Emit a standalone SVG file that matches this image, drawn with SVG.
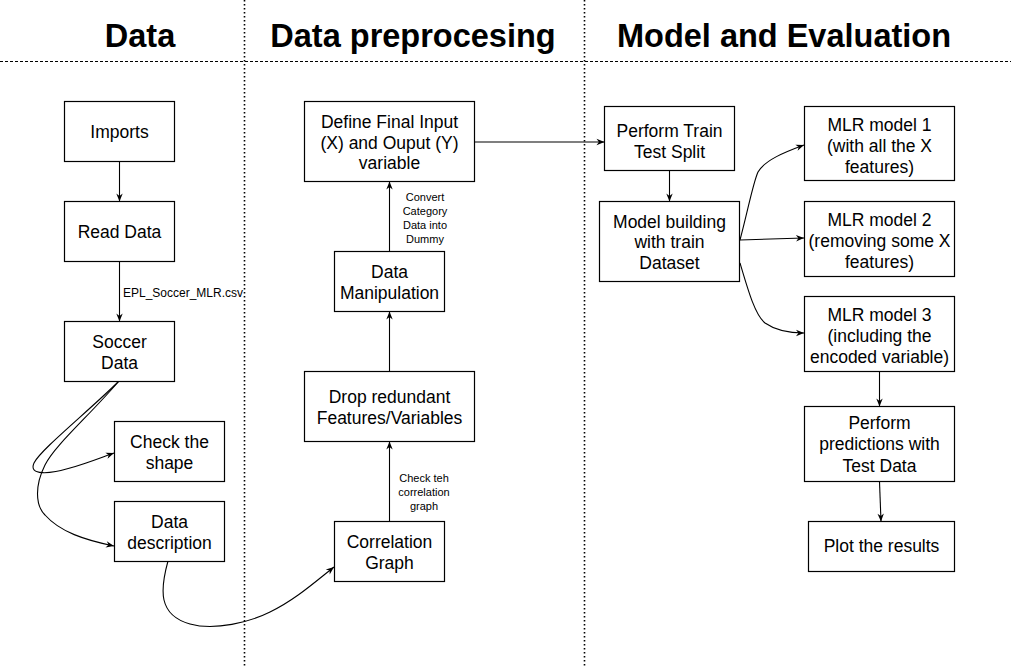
<svg xmlns="http://www.w3.org/2000/svg" width="1011" height="668" viewBox="0 0 1011 668">
<style>
.box{fill:#fff;stroke:#000;stroke-width:1.2}
.t{font-family:"Liberation Sans",Arial,sans-serif;font-size:17.5px;fill:#000;text-anchor:middle}
.s{font-family:"Liberation Sans",Arial,sans-serif;font-size:11px;fill:#000;text-anchor:middle}
.h{font-family:"Liberation Sans",Arial,sans-serif;font-size:32.5px;font-weight:bold;fill:#000;text-anchor:middle}
.e{fill:none;stroke:#000;stroke-width:1.1;marker-end:url(#arr)}
.sep{fill:none;stroke:#000}
</style>
<defs>
<marker id="arr" viewBox="0 0 10 10" refX="10" refY="5" markerWidth="9" markerHeight="8" markerUnits="userSpaceOnUse" orient="auto">
<path d="M0,1 L10,5 L0,9 L3,5 z" fill="#000"/>
</marker>
</defs>
<rect width="1011" height="668" fill="#fff"/>
<g id="separators">
<line class="sep" x1="0" y1="61.5" x2="1011" y2="61.5" stroke-width="1.2" stroke-dasharray="3 2"/>
<line class="sep" x1="244.5" y1="0" x2="244.5" y2="668" stroke-width="1.6" stroke-dasharray="1.6 2.4"/>
<line class="sep" x1="584.5" y1="0" x2="584.5" y2="668" stroke-width="1.6" stroke-dasharray="1.6 2.4"/>
</g>
<g id="titles">
<text class="h" x="140" y="47">Data</text>
<text class="h" x="413" y="47">Data preprocesing</text>
<text class="h" x="784" y="47">Model and Evaluation</text>
</g>
<g id="connectors">
<path class="e" d="M119.5,161.5 L119.5,201.5"/>
<path class="e" d="M119.5,261.5 L119.5,321.5"/>
<path class="e" d="M119,381 C 90,410 40,450 34,463 C 28,476 50,474 70,468 C 85,464 100,458 114,453"/>
<path class="e" d="M119,381 C 90,415 55,445 45,465 C 35,485 35,505 45,515 C 60,532 85,540 114,546"/>
<path class="e" d="M168,561 C 160,590 158,615 190,624 C 215,631 250,622 270,612 C 295,600 315,582 334,567"/>
<path class="e" d="M389.5,521.5 L389.5,441.5"/>
<path class="e" d="M389.5,371.5 L389.5,311.5"/>
<path class="e" d="M389.5,251.5 L389.5,181.5"/>
<path class="e" d="M474.5,142 L604.5,142"/>
<path class="e" d="M669.5,170.5 L669.5,201.5"/>
<path class="e" d="M740,240 C 748,210 753,183 758,172 C 765,160 785,152 804,145"/>
<path class="e" d="M740,240 L804,238"/>
<path class="e" d="M740,263 C 748,290 755,315 765,323 C 775,330 790,333 804,333"/>
<path class="e" d="M879.5,371.5 L879.5,406.5"/>
<path class="e" d="M879.5,481.5 L881,521.5"/>
<text class="s" x="183" y="297" style="font-size:12px">EPL_Soccer_MLR.csv</text>
<text class="s" x="425" y="201">Convert</text>
<text class="s" x="425" y="215">Category</text>
<text class="s" x="425" y="229">Data into</text>
<text class="s" x="425" y="243">Dummy</text>
<text class="s" x="424" y="482">Check teh</text>
<text class="s" x="424" y="496">correlation</text>
<text class="s" x="424" y="510">graph</text>
</g>
<g id="imports"><rect class="box" x="64.5" y="101.5" width="110" height="60"/><text class="t" x="119.5" y="137.5">Imports</text></g>
<g id="read-data"><rect class="box" x="64.5" y="201.5" width="110" height="60"/><text class="t" x="119.5" y="237.5">Read Data</text></g>
<g id="soccer-data"><rect class="box" x="64.5" y="321.5" width="110" height="60"/><text class="t" x="119.5" y="347.5">Soccer</text><text class="t" x="119.5" y="368.5">Data</text></g>
<g id="check-shape"><rect class="box" x="114.5" y="421.5" width="110" height="60"/><text class="t" x="169.5" y="447.5">Check the</text><text class="t" x="169.5" y="468.5">shape</text></g>
<g id="data-description"><rect class="box" x="114.5" y="501.5" width="110" height="60"/><text class="t" x="169.5" y="527.5">Data</text><text class="t" x="169.5" y="548.5">description</text></g>
<g id="define-io"><rect class="box" x="304.5" y="101.5" width="170" height="80"/><text class="t" x="389.5" y="127.5">Define Final Input</text><text class="t" x="389.5" y="148.5">(X) and Ouput (Y)</text><text class="t" x="389.5" y="169">variable</text></g>
<g id="data-manipulation"><rect class="box" x="334.5" y="251.5" width="110" height="60"/><text class="t" x="389.5" y="277.5">Data</text><text class="t" x="389.5" y="298.5">Manipulation</text></g>
<g id="drop-redundant"><rect class="box" x="304.5" y="371.5" width="170" height="70"/><text class="t" x="389.5" y="402.5">Drop redundant</text><text class="t" x="389.5" y="423.5">Features/Variables</text></g>
<g id="correlation-graph"><rect class="box" x="334.5" y="521.5" width="110" height="60"/><text class="t" x="389.5" y="547.5">Correlation</text><text class="t" x="389.5" y="568.5">Graph</text></g>
<g id="train-test-split"><rect class="box" x="604.5" y="106.5" width="130" height="64"/><text class="t" x="669.5" y="136.5">Perform Train</text><text class="t" x="669.5" y="158">Test Split</text></g>
<g id="model-building"><rect class="box" x="599.5" y="201.5" width="140" height="80"/><text class="t" x="669.5" y="227.5">Model building</text><text class="t" x="669.5" y="248">with train</text><text class="t" x="669.5" y="268.5">Dataset</text></g>
<g id="mlr1"><rect class="box" x="804.5" y="106.5" width="150" height="74"/><text class="t" x="879.5" y="130.5">MLR model 1</text><text class="t" x="879.5" y="152">(with all the X</text><text class="t" x="879.5" y="173">features)</text></g>
<g id="mlr2"><rect class="box" x="804.5" y="201.5" width="150" height="75"/><text class="t" x="879.5" y="225.5">MLR model 2</text><text class="t" x="879.5" y="247">(removing some X</text><text class="t" x="879.5" y="268">features)</text></g>
<g id="mlr3"><rect class="box" x="804.5" y="296.5" width="150" height="75"/><text class="t" x="879.5" y="320.5">MLR model 3</text><text class="t" x="879.5" y="341.5">(including the</text><text class="t" x="879.5" y="362.5">encoded variable)</text></g>
<g id="predictions"><rect class="box" x="804.5" y="406.5" width="150" height="75"/><text class="t" x="879.5" y="428.5">Perform</text><text class="t" x="879.5" y="450">predictions with</text><text class="t" x="879.5" y="471.5">Test Data</text></g>
<g id="plot-results"><rect class="box" x="808.5" y="521.5" width="146" height="50"/><text class="t" x="881.5" y="552">Plot the results</text></g>
</svg>
